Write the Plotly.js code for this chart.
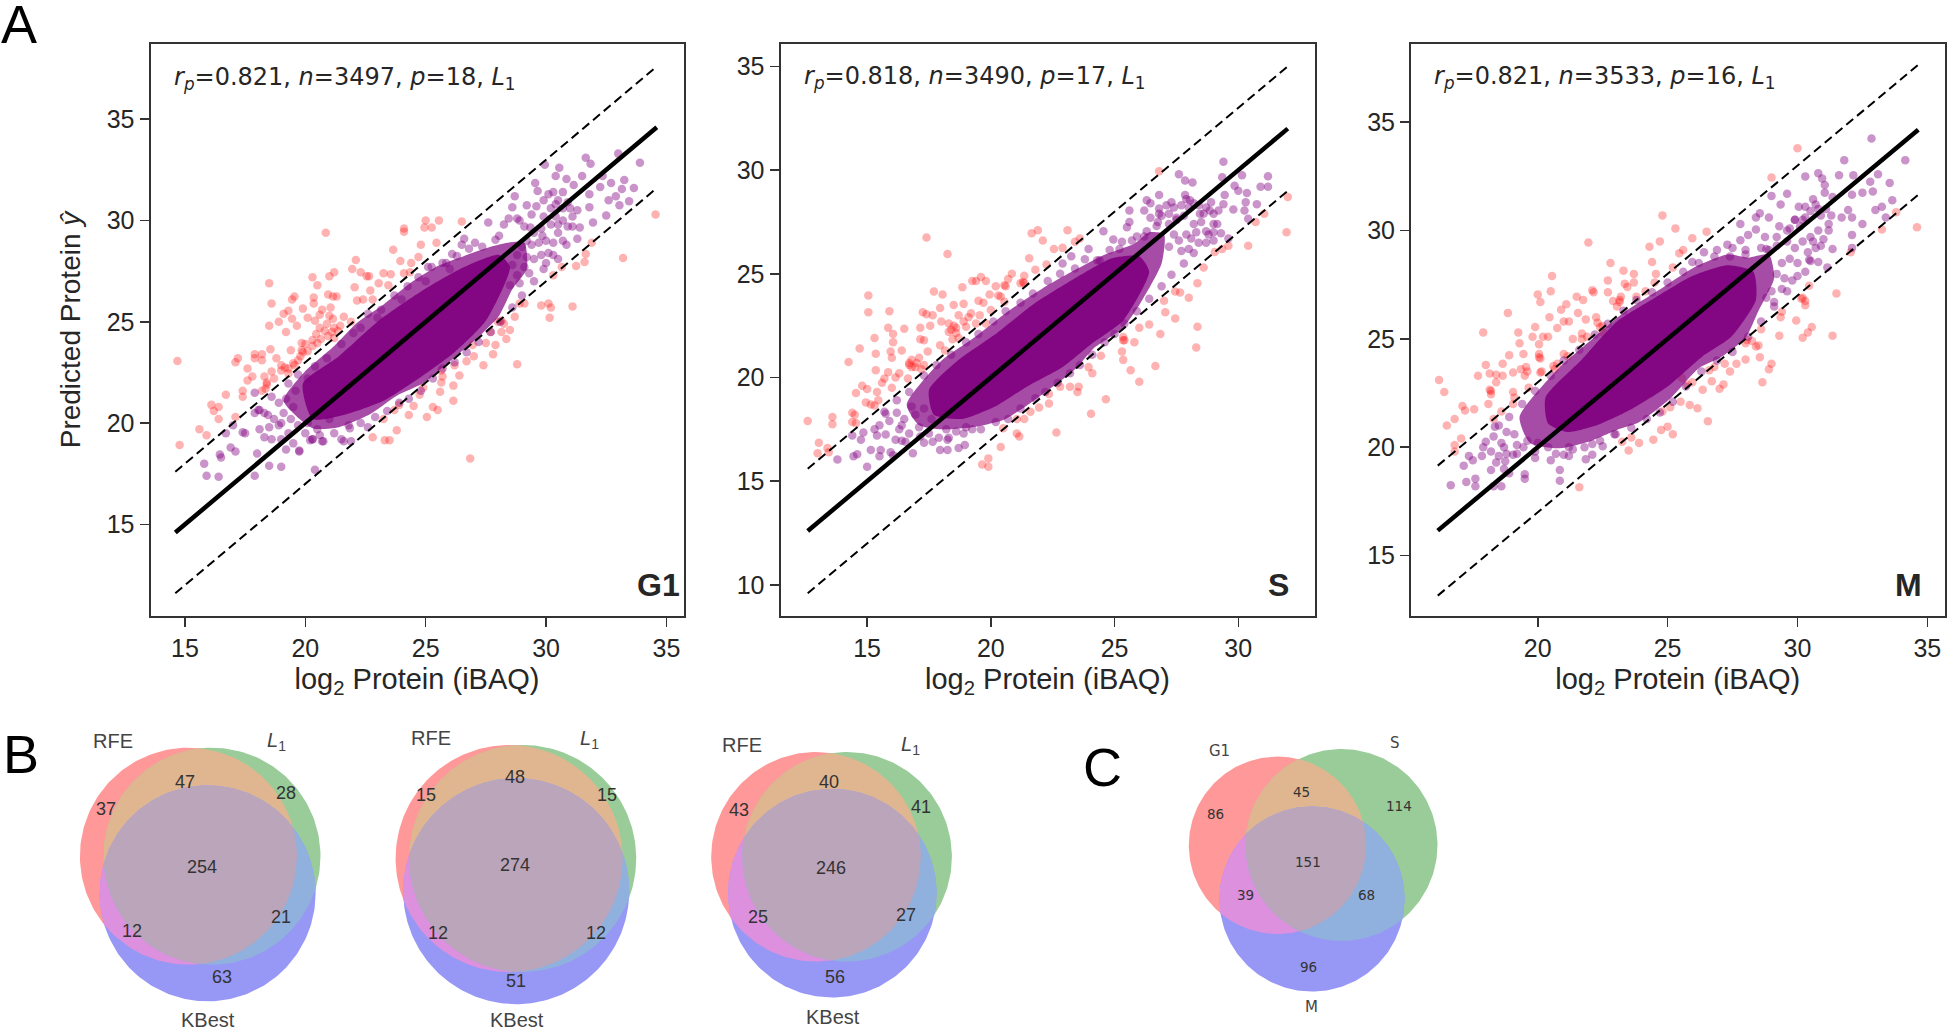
<!DOCTYPE html>
<html>
<head>
<meta charset="utf-8">
<script src="https://cdn.plot.ly/plotly-3.0.1.min.js"></script>
<style>html,body{margin:0;padding:0;background:#fff}</style>
</head>
<body>
<div id="chart" style="width:1947px;height:1031px"></div>
<script>
// points below are read off the picture by eye. Only the separable points are listed,
// the saturated middle of each cloud is drawn as two filled outlines.
const g1Red = [[14.69,23.06],[14.78,18.92],[15.6,19.7],[15.9,19.4],[16.1,20.9],[16.2,20.6],[16.4,20.8],[16.4,20.2],[16.7,21.4],[17.1,23],[17.2,23.2],[17.1,20.3],[17.4,21.6],[17.4,21.3],[17.6,22.7],[17.6,22.1],[17.8,22.3],[17.9,23.2],[17.9,23.4],[18.2,23.4],[18.2,23.1],[18.3,22.3],[18.4,22],[18.35,21.7],[18.5,26.9],[18.6,25.9],[18.5,24.8],[18.55,23.65],[18.6,22.55],[18.8,23.2],[18.9,25],[19.1,25.4],[19.3,25.55],[19.2,24.5],[19.45,26.1],[19.55,26.25],[19.45,25.15],[19.65,24.8],[19.4,23.6],[19,22.85],[19.3,22.7],[19.55,22.85],[19.85,23.95],[19.9,23.5],[19.8,23.3],[19.9,25.65],[20.1,25.2],[20.3,27.2],[20.5,26.8],[20.35,26.2],[20.35,25.9],[20.4,25.05],[20.6,25.35],[20.3,23.8],[20.5,23.95],[20.65,24.15],[20.85,29.4],[21,27.25],[21.2,27.45],[20.95,26.35],[21.15,26.25],[21.3,26.25],[21.05,25.7],[21.15,25.15],[21.2,24.7],[20.95,24.3],[21.6,25.25],[21.95,27.6],[22.1,28.05],[22.3,27.45],[22.05,26.7],[21.9,25],[22.15,26.05],[22.55,27.25],[22.65,27.25],[22.7,26.55],[22.4,26.1],[22.8,26.1],[23.05,26.9],[23.25,27.4],[23.55,27.35],[23.45,26.8],[23.65,28.55],[23.95,28],[24.1,29.6],[24.1,29.45],[24.1,27.4],[24.35,27.45],[24.4,27.9],[24.7,28.2],[24.8,28.8],[24.95,29.65],[25,30],[25.25,29.65],[25.55,30],[25.45,28.9],[26.5,29.95],[22.8,19.3],[23.3,19.15],[23.5,19.15],[23.25,20.2],[23.8,19.65],[23.7,20.65],[23.9,20.9],[24.3,20.4],[24.5,20.85],[24.75,21.4],[24.9,21.75],[25.05,20.3],[25.3,20.8],[25.5,20.65],[25.6,21.55],[25.65,22],[25.65,22.6],[26.15,21.85],[26.15,21.1],[26.4,22.35],[26.2,22.85],[26.7,23.05],[26.95,23.85],[27,23.3],[26.85,18.25],[27.4,22.85],[27.5,23.95],[27.8,23.4],[27.9,23.85],[28.15,25.05],[28.15,24.5],[28.35,24.15],[28.5,24.6],[28.8,22.9],[28.7,25.25],[28.9,25.9],[29.1,25.9],[29.8,25.8],[30.1,25.9],[30.2,25.7],[30.15,25.2],[30.3,27.3],[30.65,27.7],[31.1,25.75],[31.25,27.75],[31.6,27.95],[31.65,28.35],[31.9,28.9],[33.2,28.15],[34.55,30.3],[18.2,21.6],[18.4,21.9],[18.7,22.2],[19,22.6],[19.15,22.75],[19.3,22.45],[19.5,22.95],[19.7,23.1],[19.85,23.6],[20,23.9],[20.1,23.55],[20.3,24.1],[20.45,24.4],[20.6,24.7],[20.8,24.55],[20.9,24.9],[21,25.3],[21.1,24.5],[20.7,25.6],[21.2,24.2],[21.35,24.55],[21.45,24.8],[25.7,22.3],[27.7,24.5],[28,25],[28.25,24.9]];
const g1Purple = [[15.8,18],[15.9,17.4],[16.4,17.35],[16.45,18.45],[16.5,18.3],[16.7,19.5],[16.9,18.8],[17.1,18.6],[17,19.9],[17.5,19.5],[17.9,17.4],[18,18.5],[18.5,17.9],[19,17.85],[18.3,19.3],[18.1,19.7],[17.9,20.5],[18.6,19.2],[19.2,18.7],[19.5,19],[19.75,18.6],[20.4,17.7],[20.3,19.2],[20.7,19.1],[20.2,19.15],[21.5,19.2],[21.9,19.1],[22.6,19.8],[17.9,21.5],[18.05,20.65],[18.45,20.4],[19,20],[19.4,20.2],[17.4,19.55],[19,19.2],[19.75,18.65],[20.3,19.2],[20.75,19.1],[21.6,19.1],[21.85,19.75],[21,20.2],[33.9,32.85],[33,33.3],[31.65,33.1],[31.85,32.8],[29.95,32.75],[30.55,32.6],[30.4,32.2],[31.5,32.2],[30.85,32.05],[29.55,31.85],[31.15,31.75],[32.35,32.2],[32.7,31.85],[33.25,32],[33.65,31.6],[33.15,31.55],[32.9,31.2],[33.45,30.95],[32.6,31],[33.05,30.75],[32.5,30.25],[32.25,31.65],[31.8,31.3],[31.8,30.65],[31.95,29.9],[31.4,29.65],[31.3,29.1],[30.85,28.8],[30.5,28.1],[30,27.9],[28.7,31.2],[28.6,30.65],[29.2,30.75],[29.65,31.45],[28.45,30.1],[27.6,29.9],[28.05,29.25],[27.05,28.9],[26.6,29.1],[26.5,28.8],[26.1,28.35],[25.85,27.9],[25.1,27.7],[30.5,29.8],[29.85,29.25],[29.35,29.65],[18.1,20.65],[18.6,21.3],[19.3,21.95],[19.7,22.4],[20.4,22.8],[20.9,23.2],[21.5,23.9],[22,24.45],[22.6,25.4],[23.15,25.6],[23.7,26.3],[24.25,26.75],[24.7,27.2],[25.25,27.7],[25.7,27.9],[26.3,28.25],[26.8,28.6],[27.35,28.7],[27.9,29.05],[28.25,29.8],[28.8,30.1],[22.3,24.7],[23,25.2],[24,26.1],[25,27],[26,27.6],[20,19.5],[20.6,19.4],[21.2,19.5],[21.8,19.9],[22.3,20],[22.9,20.3],[23.4,20.6],[23.9,21],[24.3,21.2],[24.8,21.6],[25.3,22.2],[25.7,22.7],[26.2,23],[26.7,23.5],[27.2,24],[27.7,24.5],[28.1,25],[28.6,25.7],[29,26.3],[29.5,27],[29.9,27.6],[30.3,28.3],[30.7,29],[31.1,29.7],[31.3,30.5],[28.9,30],[29.1,29.7],[29.4,30.3],[29.6,30.7],[29.9,31],[30.1,31.3],[30.3,31.4],[30.5,31],[30.7,30.6],[30.9,30.9],[30.2,30.6],[29.9,30.2],[30.4,30.2],[30.7,30],[30.9,29.7],[30.5,29.4],[30.2,29.8],[29.8,29.6],[29.5,29.4],[29.2,29],[29.4,28.8],[29.7,28.9],[30,29],[30.3,28.9],[30.1,28.4],[29.8,28.3],[29.5,28.1],[29.2,28.2],[29,28.7],[28.8,28.3],[29.1,27.7],[29.3,27.4],[28.8,27.3],[28.6,27.8],[28.5,26.8],[28.9,26.9],[31.1,30.2],[31,30.6],[30.7,31.4],[30.4,30.8],[18.3,20.5],[18.7,20.2],[19.1,20.5],[19.5,20.8],[18.9,19.9],[19.3,19.5],[19.7,19.9],[20.1,20],[20.5,19.7],[18.5,19.8],[19.2,21.2],[18.9,21],[19.6,21.6],[20.1,22.2]];
const g1CoreOuter = [[19.1,21.1],[19.95,22.5],[21.2,23.8],[22.15,24.95],[23.25,25.85],[24.35,26.9],[25.5,27.75],[26.6,28.25],[27.7,28.7],[28.4,28.9],[29.1,28.9],[29.2,27.6],[28.6,26.6],[28.05,25.3],[27.15,24.2],[26.05,23.1],[24.95,22],[23.8,21.35],[22.7,20.45],[21.4,19.8],[20.3,19.75]];
const g1CoreInner = [[19.9,21.95],[21.4,23.3],[23.05,25.05],[24.95,26.6],[26.6,27.7],[28.05,28.3],[28.5,27.7],[27.5,25.05],[26.2,23.5],[24.95,22.4],[23.25,21.1],[21.6,20.4],[20.3,20.2]];

const sRed = [[12.6,17.9],[13.05,16.85],[13,16.35],[13.4,16.6],[13.45,16.4],[13.6,18.1],[13.6,17.75],[14.4,18.3],[14.5,18.2],[14.4,17.85],[14.55,17.8],[14.25,20.75],[14.7,21.4],[14.55,19.25],[14.8,19.6],[15,19.45],[14.95,18.8],[15.15,18.7],[15.3,18.65],[15.45,18.9],[15.05,23.95],[15.05,23.15],[15.3,21.9],[15.35,21.15],[15.35,20.35],[15.4,19.3],[15.6,19.75],[15.7,19.95],[15.85,20.25],[16,19.5],[15.9,23.2],[15.85,22.4],[16.05,22.1],[16.05,21.7],[15.95,21.25],[16,20.95],[16.4,21.3],[16.5,22.35],[16.15,20],[16.3,20.2],[16.7,20.7],[16.8,20.5],[16.65,19.95],[16.95,20.5],[17.15,22.4],[17.15,21.85],[17.3,21.8],[17.45,21.25],[17.3,20.6],[17.25,23.15],[17.4,23.05],[17.4,26.75],[17.7,24.15],[18.05,24],[17.65,23],[17.55,22.5],[17.95,23.35],[18,22.7],[17.95,21.55],[18.15,21.3],[18.25,25.95],[18.3,22.6],[18.5,22.5],[18.5,23.5],[18.6,22.15],[18.7,21.9],[18.7,23],[18.9,23.55],[18.85,24.35],[19.25,24.65],[19.1,22.9],[19,22.45],[19.4,24.65],[19.6,24.85],[19.8,24.65],[19.5,23.7],[19.55,23],[19.95,24],[19.8,22.6],[20,23.25],[20.2,24.4],[20.4,23.9],[20.55,23.65],[20.7,24.75],[20.85,25],[20.55,24.45],[21.2,24.55],[21.35,24.9],[21.55,25.75],[21.8,25.2],[21.65,26.95],[21.9,27.1],[22.1,26.6],[22.25,25.45],[22.55,26.2],[22.9,26.25],[23.1,27.1],[23.4,26.55],[23.6,26.7],[26.8,29.95],[19.65,15.8],[19.9,16.1],[19.9,15.7],[20.4,16.65],[20.5,17.55],[21.05,17.3],[21.15,17.15],[21.05,18],[21.35,18],[21.6,18.35],[21.95,18.55],[22.35,18.75],[22.35,19.2],[22.65,17.35],[22.8,19.55],[23.2,19.55],[23.5,19.3],[23.55,19.55],[24.05,18.25],[23.95,20.5],[24.1,20.2],[24.65,18.95],[24.45,21.05],[25.3,21.25],[25.35,20.85],[25.65,20.35],[25.35,21.8],[25.8,21.7],[26,22.4],[26.4,22.55],[26,19.8],[26.65,20.55],[26.85,22.1],[27,23.7],[27.05,23.15],[27.45,22.85],[27.45,24.15],[27.65,24.1],[28,23.85],[28.35,24.55],[28.35,22.45],[28.3,21.45],[28.6,25.3],[29.05,26.05],[29.35,26.2],[29.6,26.35],[30.4,26.35],[30.7,27.5],[31.05,27.9],[31.95,27],[32,28.7],[16.7,20.6],[16.8,20.85],[17,20.7],[17.1,20.95],[17.2,20.4],[18.3,22.2],[18.4,22.3],[18.45,21.85],[18.6,22.4],[18.9,22.7],[19.2,23.1],[19.4,22.6],[19.7,23.6],[20.3,23.95],[20.6,24.4],[21.3,24.6],[21.35,24.55],[25.35,21.95],[25.4,21.8]];
const sPurple = [[13.8,16.05],[14.45,16.2],[14.6,16.3],[15,15.7],[15.15,16.5],[15.55,16.5],[15.5,16.2],[15.95,16.4],[16.05,16.25],[14.4,17.2],[14.85,17.35],[14.75,17],[15.3,17.5],[15.4,17.2],[15.75,17.25],[16.15,17],[16.55,16.9],[16.85,16.35],[17.15,17.15],[17.65,16.9],[17.95,16.5],[18.25,16.5],[18.7,16.6],[18.95,16.75],[18.25,17],[19.25,17.5],[15.75,18.25],[16.4,17.7],[22.9,25.5],[23.25,25.85],[23.95,26.2],[24.4,25.65],[24.55,27.05],[24.95,26.65],[25.3,26.55],[25.6,28.05],[25.6,27.5],[25.5,27.25],[25.9,26.8],[26.3,28.55],[26.45,28.4],[26.2,28.05],[26.45,27.7],[26.8,28.8],[26.8,28.15],[26.75,27.5],[26.3,27.05],[27.6,29.8],[27.85,29.5],[28.15,29.4],[27.3,28.45],[27.85,28.8],[28.05,28.55],[27.5,27.7],[28.2,27.4],[28.45,27.9],[28.7,27.05],[28.85,28.05],[29,26.6],[29.2,28.05],[29.4,30.4],[29.35,29.65],[29.45,28.8],[29.4,28.35],[29.85,29.25],[30,29],[30.15,29.75],[29.8,28.1],[30.35,28.9],[30.3,28.45],[30.25,28.05],[30.75,28.35],[30.9,29.2],[31.2,29.2],[31.2,29.7],[30.4,27.65],[29.3,26.95],[29.15,27.4],[29.6,26.7],[28.9,28.45],[15.7,18.35],[16.2,18.9],[16.7,19.3],[17.3,20.1],[17.8,20.6],[18.4,21.1],[19,21.7],[19.5,22.1],[20.1,22.7],[20.6,23.2],[21.2,23.6],[21.7,24.05],[22.3,24.65],[22.8,25],[23.4,25.25],[23.8,25.7],[24.3,25.65],[24.8,26.15],[25.2,26.2],[25.7,26.6],[26.2,26.8],[26.7,27.3],[27.2,27.9],[27.7,28.3],[16.4,16.95],[17.3,16.85],[18.3,17.1],[18.9,17.3],[19.6,17.5],[20.2,17.85],[20.7,18],[21.2,18.5],[21.8,19],[22.2,19.3],[22.7,19.75],[23.2,20.2],[23.6,20.6],[24.1,21.1],[24.6,21.7],[25,22.1],[25.4,22.6],[25.9,23.2],[26.4,23.8],[26.9,24.4],[27.3,24.95],[27.8,25.5],[28.2,26],[28.7,26.5],[29,27],[26.9,27.8],[27.2,27.4],[27.5,27.6],[27.8,27.8],[28,28.2],[28.2,28.4],[28.4,28.3],[28.6,27.9],[28.5,27.5],[28.3,27],[28.1,26.7],[27.9,26.9],[27.6,26.6],[27.4,26.9],[27.2,26.3],[27.7,26.1],[28,26.2],[28.4,26.5],[28.8,26.9],[29,27.4],[29,27.9],[28.7,28.2],[27.9,28.6],[27.4,28.2],[27.1,28.3],[26.8,27.9],[15.5,17.7],[15.9,17.9],[16.2,18.3],[16.5,18],[16.8,18.6],[16.3,17.5],[16.7,17.3],[17.1,17.6],[17.5,17.3],[17.9,17.1],[18.2,17.5],[18.6,17.4],[19,17.6],[16.95,18.2],[17.3,18.5],[17.6,18]];
const sCoreOuter = [[16.6,18.7],[17.95,20.75],[19.3,21.9],[20.7,23.2],[22.1,24.3],[23.5,25.25],[24.55,25.9],[25.8,26.45],[26.4,27],[27,26.9],[26.9,25.5],[26,23.5],[25.3,22.35],[24.15,21.4],[23.45,20.45],[22.5,19.55],[21.4,18.6],[20.5,17.95],[19.25,17.6],[18,17.5],[17.1,17.7]];
const sCoreInner = [[17.5,19.4],[18.7,20.85],[20.25,22.15],[21.8,23.6],[23.35,24.75],[24.9,25.75],[26,25.85],[26.4,25.1],[25.35,22.75],[24.1,21.65],[22.9,20.5],[21.45,19.55],[20.25,18.65],[18.85,18],[17.7,18.2]];

const mRed = [[16.2,23.1],[16.4,22.55],[16.5,21],[16.8,21.3],[16.8,20.1],[16.8,19.8],[17.05,20.4],[17.1,21.9],[17.2,21.7],[17.55,21.75],[17.7,23.3],[17.9,25.3],[18,23.8],[18.15,23.4],[18.4,23.35],[18.4,23],[18.65,23.85],[18.65,23.3],[18.15,22.65],[18.2,22.45],[18.1,22],[18.3,21.3],[18.6,21.65],[18.9,24.25],[18.85,26.2],[19.05,23.45],[19.05,22.55],[19.1,22.3],[19.05,22],[19.25,25.3],[19.3,24.8],[19.45,24.3],[19.5,23.3],[19.55,23.7],[19.65,22.75],[19.8,25.1],[19.9,25.55],[20,27.05],[20.1,26.7],[20.05,24.75],[20.05,24.15],[20.1,23.45],[20.2,25.1],[20.4,25.1],[20.5,27.2],[20.55,27.9],[20.45,26],[20.65,23.6],[20.75,25.5],[20.9,26.35],[21,25.8],[21.1,26.6],[21.15,24.2],[21.2,25.8],[21.35,25],[21.5,26.95],[21.55,26.2],[21.75,26.8],[21.85,25.9],[21.95,29.45],[22.1,27.25],[22.15,27.15],[21.7,25],[22.25,26],[22.4,25.55],[22.5,25.3],[22.7,27.7],[22.8,28.5],[22.7,27.15],[22.9,26.75],[23.05,26.5],[23.2,26.95],[23.3,28.15],[23.35,27.55],[23.45,27.4],[23.7,28],[23.7,27.6],[23.8,26.95],[24.15,27.2],[24.3,29.25],[24.4,28.55],[24.55,28],[24.5,27.6],[24.7,29.5],[24.8,30.7],[25.2,28.3],[25.3,30.1],[25.45,28.95],[25.6,29.1],[25.95,29.65],[26.5,29.95],[29,32.45],[30,33.8],[21.6,18.15],[23.25,20.25],[23.5,19.85],[23.9,20.2],[23.6,20.45],[24.45,20.35],[24.75,20.8],[25,20.95],[25.2,20.6],[24.8,21.65],[25.1,21.85],[25.5,22.1],[25.85,21.95],[26.15,21.8],[26.55,21.2],[26.35,22.65],[25.95,23],[26.7,23.05],[27,22.7],[27.15,22.9],[27.2,23.85],[27.4,23.5],[27.65,23.85],[28,24.05],[28.55,24.15],[28.65,23],[28.9,23.6],[29,23.85],[28.4,24.65],[28.05,24.95],[28.6,25.45],[29.3,25.15],[29.35,26],[29.4,26.25],[29.95,25.85],[30.2,25.05],[30.4,25.3],[30.55,25.55],[31.35,25.15],[30.3,26.55],[30.15,26.85],[30.45,27.45],[31.5,27.1],[32.05,29],[33.25,30.05],[33.8,30.85],[34.6,30.15],[18.2,22.6],[19.35,23.6],[19.6,23.5],[20.05,24.3],[20.1,24.1],[20.15,23.5],[20.6,23.75],[20.75,23.85],[21,24.3],[21.7,25.25],[21.9,25.1],[22.3,25.75],[22.5,25.6],[23.15,26.8],[23.15,26.7],[25.55,23.2],[25.75,22.9],[28,24.8],[28.25,24.9],[28.5,24.7],[30.2,26.9],[30.3,26.75],[26.6,23.55],[26.8,23.7]];
const mPurple = [[16.65,18.25],[17.25,18.4],[17.6,18.55],[17.6,18.2],[17.15,19.15],[17.35,19.6],[17.5,19.4],[17.85,19.6],[18.2,18.95],[18.4,19.3],[18.75,19.35],[18.7,19],[18.6,18.2],[18.3,18.2],[18.9,18.8],[19.5,18.75],[19.5,18.55],[19.05,19.65],[18,20.25],[18.3,20.5],[18.7,20],[19.45,20],[20.85,18.95],[20.85,18.45],[21,19.65],[21.35,19.9],[21.85,19.45],[22.1,19.65],[22.5,20.05],[22.1,20.15],[22.95,20.6],[25.95,28.55],[26.4,29],[26.9,29.1],[27.3,29.35],[27.5,29.2],[27.8,29.55],[27.8,30.3],[28.1,29.8],[28,28.9],[28.4,30.6],[28.55,30.8],[28.4,30.05],[28.75,29.7],[29,31.6],[28.9,30.6],[29.35,31.2],[29.6,31.7],[29.3,30.2],[28.8,29.15],[29.9,30.5],[30.05,31.1],[30.3,32.5],[30.3,31.1],[30.6,31.45],[30.8,32.65],[30.95,32.4],[31.05,32.1],[31.05,31.75],[30.6,29.5],[30.3,28.1],[30.8,28.55],[30.45,28.65],[31.35,31.55],[31.35,29.15],[31.6,32.55],[31.8,33.25],[32.15,32.55],[32.1,31.65],[31.95,30.95],[31.7,30.6],[32.1,30.6],[32.5,30.3],[32.5,31.75],[32.8,32.25],[32.85,34.25],[33.1,32.6],[32.9,31.8],[33,30.95],[33.25,31.1],[33.55,32.2],[33.65,31.4],[34.15,33.25],[33.4,30.6],[32.1,29.8],[32.1,29.2],[31.15,28.3],[18.35,20.95],[18.9,21.4],[19.4,22],[19.9,22.6],[20.5,23.3],[21,24],[21.6,24.5],[22.2,25.2],[22.7,25.7],[23.3,26.3],[23.8,26.8],[24.4,27.15],[25,27.6],[25.6,28.1],[26.2,28.5],[26.8,28.8],[27.4,28.8],[28,29.1],[28.6,29.2],[29.2,29.7],[29.7,30.1],[30.2,30.5],[30.8,31],[18.6,20.2],[19.2,19.7],[19.9,19.5],[20.5,19.4],[21.2,19.6],[21.8,20],[22.4,20.3],[23,20.6],[23.6,20.9],[24.2,21.3],[24.7,21.6],[25.2,22.1],[25.7,22.8],[26.3,23.5],[26.9,24],[27.5,24.4],[28.1,25.1],[28.6,25.8],[29.1,26.5],[29.6,27.2],[30,27.9],[30.5,28.6],[30.9,29.3],[31.2,30],[29.6,30],[29.9,30.5],[30.1,30.2],[30.3,30.6],[30.5,30.9],[30.7,31.2],[30.9,30.7],[31.1,31],[31.2,30.3],[30.8,30],[30.5,29.7],[30.2,29.5],[29.9,29.2],[29.7,28.7],[30,28.5],[30.4,29],[30.7,29.2],[29.4,28.5],[29.2,28],[29.5,27.8],[29.8,27.7],[29,27.2],[29.4,27.3],[28.8,26.9],[29.1,26.7],[29.6,29.5],[29.2,29.3],[28.9,29.1],[31,29.6],[31.3,30.7],[17.9,20],[18.2,19.8],[18.5,19.6],[18.8,19.7],[19.2,20.1],[19.1,20.6],[18.8,20.7],[19.6,20.3],[20,20.2],[20.4,20],[19.9,19.8],[20.7,19.7],[21.2,20],[18.5,21]];
const mCoreOuter = [[19.3,21.4],[20.85,23.7],[22.1,25],[23.35,26.25],[24.85,27.4],[26.1,28.35],[27.3,28.9],[28.1,28.75],[28.9,28.9],[29.1,27.8],[28.5,26.3],[28,25.05],[27.05,24.15],[26.2,23.65],[25.1,22.25],[23.9,21.15],[23.05,20.8],[21.95,20.25],[20.85,19.95],[19.7,20.2]];
const mCoreInner = [[20.3,22.3],[21.7,24.05],[23.05,25.8],[24.45,26.85],[25.95,27.9],[27.3,28.4],[28.3,28.1],[28.4,26.8],[27.45,25.1],[26.35,24.2],[25,22.8],[23.6,21.75],[22.35,21.05],[21.15,20.7],[20.4,21.1]];

// fit line ends (y = x, dashed at +/- 3)
const g1Fit = [14.6, 34.6];
const sFit = [12.6, 32];
const mFit = [16.15, 34.65];

const regionCountsV1 = [37, 28, 63, 47, 12, 21, 254];
const regionCountsV2 = [15, 15, 51, 48, 12, 12, 274];
const regionCountsV3 = [43, 41, 56, 40, 25, 27, 246];
const regionCountsC = [86, 114, 96, 45, 39, 68, 151];
const setNamesB = ['RFE', '<i>L</i><sub>1</sub>', 'KBest'];
const setNamesC = ['G1', 'S', 'M'];

const pageW = 1947, pageH = 1031;
const redDot = 'rgba(255,0,0,0.3)', purpleDot = 'rgba(128,0,128,0.42)';
const inkColor = '#262626';

const traces = [];
const shapesText = [];

function scatterPanel(n, red, purple, outer, inner, fit) {
    const xa = 'x' + n, ya = 'y' + n;
    const dots = (pts, color) => ({
        x: pts.map(p => p[0]), y: pts.map(p => p[1]), xaxis: xa, yaxis: ya,
        type: 'scatter', mode: 'markers', hoverinfo: 'skip',
        marker: {size: 8.5, color: color, line: {width: 0}}
    });
    const core = (pts, color) => ({
        x: pts.map(p => p[0]).concat(pts[0][0]), y: pts.map(p => p[1]).concat(pts[0][1]),
        xaxis: xa, yaxis: ya, type: 'scatter', mode: 'lines', fill: 'toself',
        line: {width: 0, shape: 'spline', smoothing: 0.6}, fillcolor: color, hoverinfo: 'skip'
    });
    const fitLine = (off, width, dash) => ({
        x: fit, y: fit.map(v => v + off), xaxis: xa, yaxis: ya,
        type: 'scatter', mode: 'lines', hoverinfo: 'skip',
        line: {color: '#000', width: width, dash: dash}
    });
    traces.push(dots(red, redDot), core(outer, 'rgba(128,0,128,0.7)'),
        core(inner, 'rgba(128,0,128,0.92)'), dots(purple, purpleDot),
        fitLine(3, 2, '9px,5px'), fitLine(-3, 2, '9px,5px'), fitLine(0, 4.5, 'solid'));
}

scatterPanel('', g1Red, g1Purple, g1CoreOuter, g1CoreInner, g1Fit);
scatterPanel('2', sRed, sPurple, sCoreOuter, sCoreInner, sFit);
scatterPanel('3', mRed, mPurple, mCoreOuter, mCoreInner, mFit);

// Venn regions: every region is an intersection of convex discs, so paint
// singles, then pairs, then the triple, clipped to each other.
function disc(c) {
    const pts = [];
    for (let i = 0; i < 240; i++) {
        const t = i / 240 * 2 * Math.PI;
        pts.push([c[0] + c[2] * Math.cos(t), c[1] + c[2] * Math.sin(t)]);
    }
    return pts;
}
function clip(subject, clipper) {
    let out = subject;
    for (let i = 0; i < clipper.length; i++) {
        const a = clipper[i], b = clipper[(i + 1) % clipper.length];
        const side = p => (b[0] - a[0]) * (p[1] - a[1]) - (b[1] - a[1]) * (p[0] - a[0]);
        const input = out;
        out = [];
        for (let j = 0; j < input.length; j++) {
            const p = input[j], q = input[(j + 1) % input.length];
            const sp = side(p), sq = side(q);
            if (sp >= 0) out.push(p);
            if ((sp >= 0) !== (sq >= 0)) {
                const k = sp / (sp - sq);
                out.push([p[0] + k * (q[0] - p[0]), p[1] + k * (q[1] - p[1])]);
            }
        }
        if (!out.length) break;
    }
    return out;
}
const regionColors = ['#ff9999', '#99cc99', '#9797f5', '#e0b690', '#dd90dd', '#90b0dd', '#bba5bb'];

function venn(circles, counts, names, countXY, nameXY, countFont, nameFont) {
    const [A, B, C] = circles.map(disc);
    const AB = clip(A, B), AC = clip(A, C), BC = clip(B, C), ABC = clip(AB, C);
    [A, B, C, AB, AC, BC, ABC].forEach((poly, i) => {
        traces.push({
            x: poly.map(p => p[0]), y: poly.map(p => p[1]), xaxis: 'x4', yaxis: 'y4',
            type: 'scatter', mode: 'lines', fill: 'toself', line: {width: 0},
            fillcolor: regionColors[i], hoverinfo: 'skip'
        });
    });
    counts.forEach((v, i) => shapesText.push(label(countXY[i][0], countXY[i][1], String(v), countFont)));
    names.forEach((v, i) => shapesText.push(label(nameXY[i][0], nameXY[i][1], v, nameFont)));
}
function label(x, y, text, font, xanchor) {
    return {xref: 'x4', yref: 'y4', x: x, y: y, text: text, showarrow: false,
        xanchor: xanchor || 'center', yanchor: 'middle', font: font};
}
const narrowFont = {family: '"Liberation Sans Narrow","Liberation Sans",sans-serif', size: 18, color: '#333'};
const venNameFont = {family: '"Liberation Sans",sans-serif', size: 20, color: '#444'};
const cCountFont = {family: '"DejaVu Sans",sans-serif', size: 13.5, color: '#333'};
const cNameFont = {family: '"DejaVu Sans",sans-serif', size: 15, color: '#444'};

venn([[188.4, 856.2, 108.5], [212, 856.2, 108.5], [207.6, 893.3, 108]], regionCountsV1, setNamesB,
    [[106.2, 809], [286.2, 792.7], [221.9, 976.7], [185.3, 782.3], [131.7, 930.7], [280.8, 916.7], [201.8, 866.7]],
    [[113.4, 741], [276.8, 741.7], [207.6, 1020]], narrowFont, venNameFont);
venn([[509.1, 858.5, 113.5], [522.7, 858.5, 113.5], [516.2, 891.2, 113]], regionCountsV2, setNamesB,
    [[425.9, 795], [607.1, 795], [515.6, 980.7], [515.2, 776.7], [437.5, 932.7], [595.5, 932.7], [515.2, 864.7]],
    [[431.2, 737.7], [589.2, 739.3], [516.5, 1020]], narrowFont, venNameFont);
venn([[816, 856.8, 104.8], [847.1, 856.8, 104.8], [832.3, 893.2, 104.3]], regionCountsV3, setNamesB,
    [[739.2, 810], [920.8, 807.3], [835.1, 976.7], [828.5, 782.3], [757.6, 917.3], [906, 915.3], [831, 867.7]],
    [[741.7, 745], [910.6, 745.7], [833, 1016.7]], narrowFont, venNameFont);
venn([[1277.5, 845.3, 88.7], [1341.5, 845, 96], [1312, 899, 92.6]], regionCountsC, setNamesC,
    [[1215.7, 814], [1399.4, 806.3], [1308, 966.7], [1301.4, 792.3], [1245.8, 895.3], [1366.2, 895.3], [1308, 861.7]],
    [[1219.8, 750.7], [1394.8, 743.3], [1311.6, 1006.7]], cCountFont, cNameFont);

// panel letters and in-plot text
const letterFont = {family: '"Liberation Sans",sans-serif', size: 54, color: '#000'};
shapesText.push(label(19, 24, 'A', letterFont), label(21, 754, 'B', letterFont), label(1102, 767, 'C', letterFont));

const statFont = {family: '"DejaVu Sans",sans-serif', size: 24, color: inkColor};
const statText = (r, n, p) => `<i>r</i><sub><i>p</i></sub>=${r}, <i>n</i>=${n}, <i>p</i>=${p}, <i>L</i><sub>1</sub>`;
shapesText.push(label(172, 78, statText('0.821', 3497, 18), statFont, 'left'),
    label(802, 77, statText('0.818', 3490, 17), statFont, 'left'),
    label(1432, 77, statText('0.821', 3533, 16), statFont, 'left'));
const cycleFont = {family: '"Liberation Sans",sans-serif', size: 32, color: inkColor};
shapesText.push(label(682, 585, '<b>G1</b>', cycleFont, 'right'),
    label(1291, 585, '<b>S</b>', cycleFont, 'right'),
    label(1924, 585, '<b>M</b>', cycleFont, 'right'));

const axisStyle = () => ({
    showgrid: false, zeroline: false, showline: true, mirror: true, linewidth: 2, linecolor: '#333',
    ticks: 'outside', ticklen: 9, tickwidth: 1.5, tickcolor: '#333', automargin: true,
    tickfont: {family: '"Liberation Sans",sans-serif', size: 25, color: inkColor}
});
function xAxis(left, right, range, anchor) {
    return Object.assign(axisStyle(), {
        domain: [left / pageW, right / pageW], range: range, anchor: anchor,
        tickmode: 'array', tickvals: [15, 20, 25, 30, 35],
        title: {text: 'log<sub>2</sub> Protein (iBAQ)', standoff: 8,
            font: {family: '"Liberation Sans",sans-serif', size: 29, color: inkColor}}
    });
}
function yAxis(range, anchor, vals, title) {
    const ax = Object.assign(axisStyle(), {
        domain: [1 - 616 / pageH, 1 - 44 / pageH], range: range, anchor: anchor,
        tickmode: 'array', tickvals: vals
    });
    if (title) ax.title = {text: title, standoff: 18,
        font: {family: '"Liberation Sans",sans-serif', size: 28, color: inkColor}};
    return ax;
}

const layout = {
    width: pageW, height: pageH, showlegend: false,
    margin: {l: 0, r: 0, t: 0, b: 0},
    paper_bgcolor: '#fff', plot_bgcolor: 'rgba(0,0,0,0)',
    xaxis: xAxis(150.5, 683.5, [13.57, 35.71], 'y'),
    yaxis: yAxis([10.48, 38.71], 'x', [15, 20, 25, 30, 35], 'Predicted Protein <i>ŷ</i>'),
    xaxis2: xAxis(780.5, 1314.5, [11.5, 33.08], 'y2'),
    yaxis2: yAxis([8.5, 36.08], 'x2', [10, 15, 20, 25, 30, 35]),
    xaxis3: xAxis(1411, 1944.5, [15.12, 35.66], 'y3'),
    yaxis3: yAxis([12.21, 38.61], 'x3', [15, 20, 25, 30, 35]),
    xaxis4: {domain: [0, 1], range: [0, pageW], visible: false, anchor: 'y4'},
    yaxis4: {domain: [0, 1], range: [pageH, 0], visible: false, anchor: 'x4'},
    annotations: shapesText
};

Plotly.newPlot('chart', traces, layout, {displayModeBar: false, staticPlot: true});
</script>
</body>
</html>
